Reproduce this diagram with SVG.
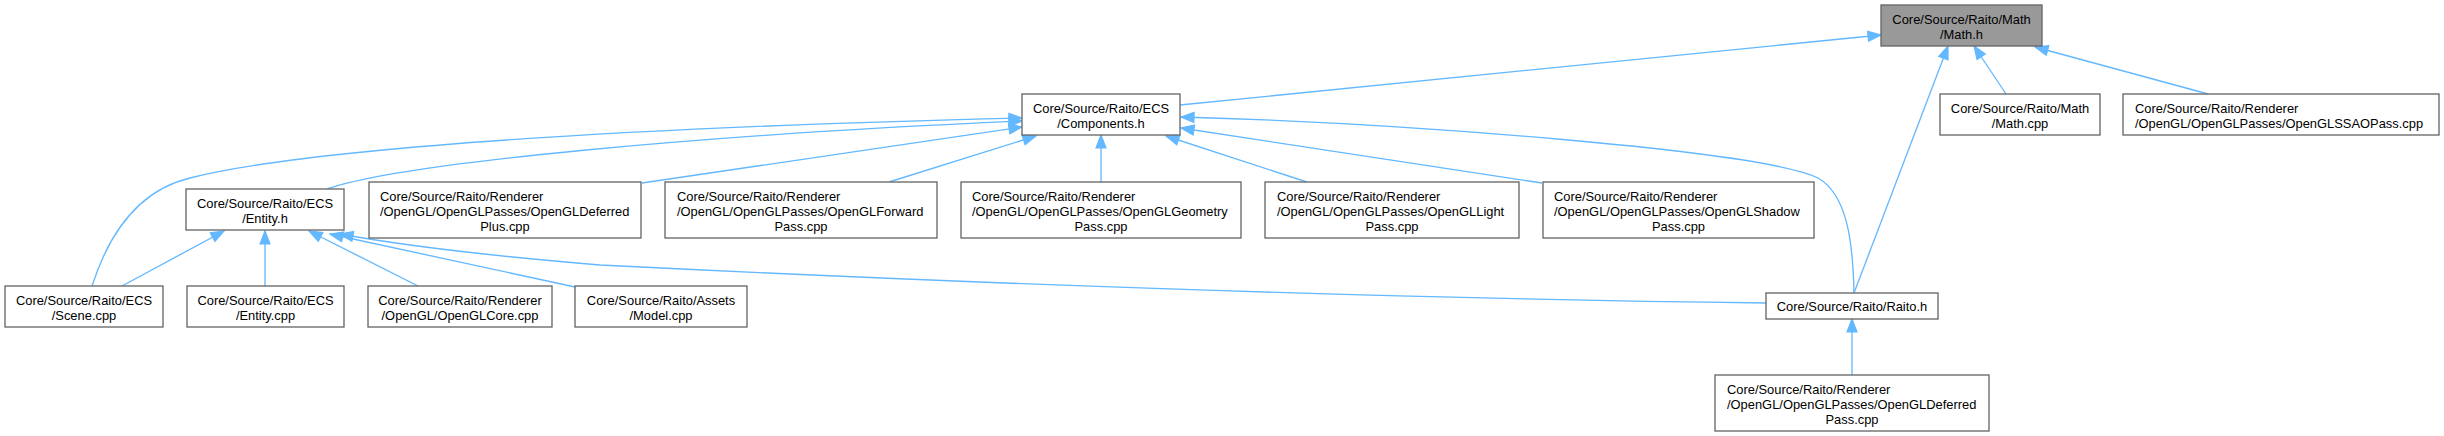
<svg xmlns="http://www.w3.org/2000/svg" width="2444" height="436" viewBox="0 0 2444 436">
<style>
.n rect{fill:#ffffff;stroke:#666666;stroke-width:1.33}
.n.hl rect{fill:#999999}
.n text{font-family:"Liberation Sans",Arial,Helvetica,sans-serif;font-size:12.9px;fill:#000000}
.c{text-anchor:middle}
#edges path{fill:none;stroke:#63b8ff;stroke-width:1.33;marker-end:url(#ah)}
</style>
<defs>
<marker id="ah" markerUnits="userSpaceOnUse" markerWidth="16" markerHeight="12" viewBox="-1 -1 16 12" refX="13" refY="5" orient="auto">
<path d="M0,0 L13,5 L0,10 z" fill="#63b8ff" stroke="#63b8ff" stroke-width="1.2"/>
</marker>
</defs>
<rect width="2444" height="436" fill="#ffffff"/>
<g id="edges">
<path d="M1180,105 L1881,35"/>
<path d="M2006,94 L1974,46"/>
<path d="M2208,94 L2035,47"/>
<path d="M1854,293 L1948,46"/>
<path d="M1854,293 C1853,245 1848,195 1818,178 C1760,150 1400,123 1181,117"/>
<path d="M1542,183 L1181,128"/>
<path d="M1307,182 L1166,136"/>
<path d="M1101,182 L1101,135"/>
<path d="M889,182 L1036,136"/>
<path d="M642,183 L1022,127"/>
<path d="M327,189 C400,163 700,135 1022,121"/>
<path d="M92,286 C110,230 140,190 190,178 C300,150 600,128 1022,118"/>
<path d="M122,286 L224,231"/>
<path d="M265,286 L265,231"/>
<path d="M418,286 L309,231"/>
<path d="M575,287 L330,234"/>
<path d="M1766,303 C1300,297 900,280 600,265 C480,255 400,245 340,234"/>
<path d="M1852,375 L1852,319"/>
</g>
<g id="node_math_h" class="n hl"><rect x="1881" y="5" width="161" height="41"/><text class="c" x="1961.5" y="23.5">Core/Source/Raito/Math</text><text class="c" x="1961.5" y="38.5">/Math.h</text></g>
<g id="node_components_h" class="n"><rect x="1022" y="94" width="158" height="41"/><text class="c" x="1101" y="112.5">Core/Source/Raito/ECS</text><text class="c" x="1101" y="127.5">/Components.h</text></g>
<g id="node_math_cpp" class="n"><rect x="1940" y="94" width="160" height="41"/><text class="c" x="2020" y="112.5">Core/Source/Raito/Math</text><text class="c" x="2020" y="127.5">/Math.cpp</text></g>
<g id="node_ssao" class="n"><rect x="2123" y="94" width="316" height="41"/><text x="2135" y="112.5">Core/Source/Raito/Renderer</text><text x="2135" y="127.5">/OpenGL/OpenGLPasses/OpenGLSSAOPass.cpp</text></g>
<g id="node_entity_h" class="n"><rect x="186" y="189" width="158" height="41"/><text class="c" x="265" y="207.5">Core/Source/Raito/ECS</text><text class="c" x="265" y="222.5">/Entity.h</text></g>
<g id="node_deferred_plus" class="n"><rect x="369" y="182" width="272" height="56"/><text x="380" y="200.5">Core/Source/Raito/Renderer</text><text x="380" y="215.5">/OpenGL/OpenGLPasses/OpenGLDeferred</text><text class="c" x="505" y="230.5">Plus.cpp</text></g>
<g id="node_forward" class="n"><rect x="665" y="182" width="272" height="56"/><text x="677" y="200.5">Core/Source/Raito/Renderer</text><text x="677" y="215.5">/OpenGL/OpenGLPasses/OpenGLForward</text><text class="c" x="801" y="230.5">Pass.cpp</text></g>
<g id="node_geometry" class="n"><rect x="961" y="182" width="280" height="56"/><text x="972" y="200.5">Core/Source/Raito/Renderer</text><text x="972" y="215.5">/OpenGL/OpenGLPasses/OpenGLGeometry</text><text class="c" x="1101" y="230.5">Pass.cpp</text></g>
<g id="node_light" class="n"><rect x="1265" y="182" width="254" height="56"/><text x="1277" y="200.5">Core/Source/Raito/Renderer</text><text x="1277" y="215.5">/OpenGL/OpenGLPasses/OpenGLLight</text><text class="c" x="1392" y="230.5">Pass.cpp</text></g>
<g id="node_shadow" class="n"><rect x="1543" y="182" width="271" height="56"/><text x="1554" y="200.5">Core/Source/Raito/Renderer</text><text x="1554" y="215.5">/OpenGL/OpenGLPasses/OpenGLShadow</text><text class="c" x="1678.5" y="230.5">Pass.cpp</text></g>
<g id="node_scene_cpp" class="n"><rect x="5" y="286" width="158" height="41"/><text class="c" x="84" y="304.5">Core/Source/Raito/ECS</text><text class="c" x="84" y="319.5">/Scene.cpp</text></g>
<g id="node_entity_cpp" class="n"><rect x="187" y="286" width="157" height="41"/><text class="c" x="265.5" y="304.5">Core/Source/Raito/ECS</text><text class="c" x="265.5" y="319.5">/Entity.cpp</text></g>
<g id="node_glcore" class="n"><rect x="368" y="286" width="184" height="41"/><text class="c" x="460" y="304.5">Core/Source/Raito/Renderer</text><text class="c" x="460" y="319.5">/OpenGL/OpenGLCore.cpp</text></g>
<g id="node_model" class="n"><rect x="575" y="286" width="172" height="41"/><text class="c" x="661" y="304.5">Core/Source/Raito/Assets</text><text class="c" x="661" y="319.5">/Model.cpp</text></g>
<g id="node_raito_h" class="n"><rect x="1766" y="293" width="172" height="26"/><text class="c" x="1852" y="310.5">Core/Source/Raito/Raito.h</text></g>
<g id="node_deferred_pass" class="n"><rect x="1715" y="375" width="274" height="56"/><text x="1727" y="393.5">Core/Source/Raito/Renderer</text><text x="1727" y="408.5">/OpenGL/OpenGLPasses/OpenGLDeferred</text><text class="c" x="1852" y="423.5">Pass.cpp</text></g>
</svg>
